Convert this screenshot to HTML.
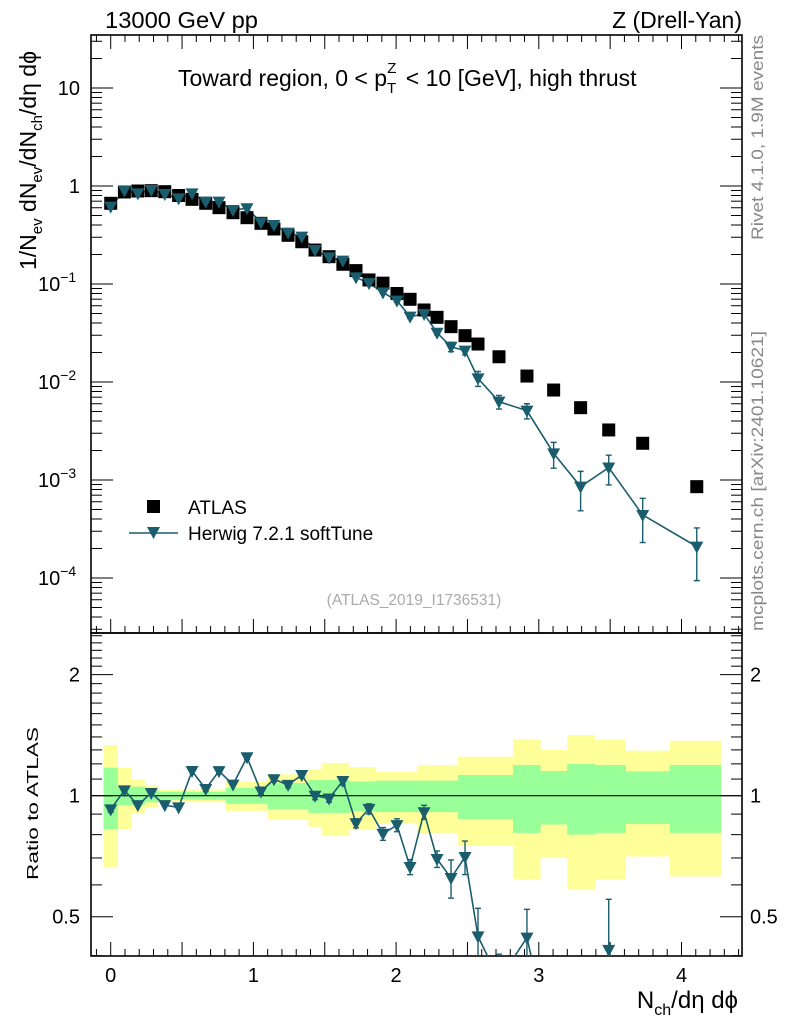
<!DOCTYPE html>
<html><head><meta charset="utf-8"><style>
html,body{margin:0;padding:0;background:#fff;width:786px;height:1024px;overflow:hidden;}
svg{display:block;font-family:"Liberation Sans",sans-serif;}
</style></head><body>
<svg id="chart" width="786" height="1024" viewBox="0 0 786 1024">
<defs>
<clipPath id="clipMain"><rect x="91" y="35" width="651" height="598"/></clipPath>
<clipPath id="clipRatio"><rect x="91" y="633" width="651" height="323"/></clipPath>
</defs>
<g id="bands" clip-path="url(#clipRatio)"></g>
<g id="axes"></g>
<g id="series"></g>
<text x="105" y="28" font-size="23" textLength="153" lengthAdjust="spacingAndGlyphs">13000 GeV pp</text>
<text x="742" y="28" font-size="23" text-anchor="end">Z (Drell-Yan)</text>
<text x="178" y="86" font-size="23">Toward region, 0 &lt; p<tspan font-size="15" dy="7">T</tspan><tspan font-size="15" dx="-9" dy="-20">Z</tspan><tspan dy="13" dx="3"> &lt; 10 [GeV], high thrust</tspan></text>
<text x="414" y="605" font-size="15.5" fill="#aaa" text-anchor="middle">(ATLAS_2019_I1736531)</text>
<text transform="translate(763,240) rotate(-90)" font-size="17" fill="#888" textLength="205" lengthAdjust="spacingAndGlyphs">Rivet 4.1.0, 1.9M events</text>
<text transform="translate(763,631) rotate(-90)" font-size="17" fill="#888" textLength="300" lengthAdjust="spacingAndGlyphs">mcplots.cern.ch [arXiv:2401.10621]</text>
<text transform="translate(36,270) rotate(-90)" font-size="23">1/N<tspan font-size="15" dy="6">ev</tspan><tspan dy="-6"> dN</tspan><tspan font-size="15" dy="6">ev</tspan><tspan dy="-6">/dN</tspan><tspan font-size="15" dy="6">ch</tspan><tspan dy="-6">/dη dϕ</tspan></text>
<text transform="translate(38,880) rotate(-90)" font-size="16" textLength="153" lengthAdjust="spacingAndGlyphs">Ratio to ATLAS</text>
<text x="738" y="1008" font-size="24" text-anchor="end">N<tspan font-size="16" dy="7">ch</tspan><tspan dy="-7">/dη dϕ</tspan></text>
<g>
<rect x="147" y="500" width="13" height="13" fill="#000"/>
<text x="188" y="514" font-size="19">ATLAS</text>
<line x1="129" y1="533" x2="178" y2="533" stroke="#1a5e6e" stroke-width="1.6"/>
<path d="M147,527 L160,527 L153.5,539 Z" fill="#1a5e6e"/>
<text x="188" y="540" font-size="19">Herwig 7.2.1 softTune</text>
</g>
</svg>
<script>
const xVals=[0,0.096,0.19,0.284,0.379,0.476,0.57,0.666,0.759,0.857,0.955,1.053,1.144,1.243,1.339,1.432,1.53,1.627,1.719,1.81,1.908,2.006,2.098,2.196,2.287,2.385,2.483,2.574,2.721,2.917,3.104,3.293,3.49,3.728,4.107];
const atlasVals=[0.666,0.869,0.889,0.896,0.875,0.80,0.731,0.666,0.601,0.534,0.475,0.416,0.364,0.314,0.270,0.222,0.190,0.159,0.137,0.110,0.102,0.080,0.0698,0.0543,0.0457,0.0367,0.0297,0.0244,0.0181,0.0115,0.00828,0.00547,0.00324,0.00237,0.000855];
const herwigVals=[0.616,0.896,0.842,0.91,0.829,0.748,0.842,0.692,0.692,0.569,0.592,0.426,0.40,0.334,0.304,0.222,0.187,0.173,0.117,0.102,0.082,0.0676,0.0464,0.0494,0.0318,0.0229,0.0209,0.0109,0.0063,0.0051,0.00187,0.000855,0.00134,0.00044,0.000209];
const herwigErr=[0.01,0.01,0.01,0.01,0.01,0.01,0.01,0.01,0.01,0.008,0.008,0.007,0.006,0.005,0.005,0.005,0.004,0.004,0.003,0.003,0.003,0.0025,0.002,0.002,0.0015,0.0025,0.002,0.0019,0.001,0.0009,0.00055,0.00037,0.00045,0.00021,0.000115];
const bandTotal=[0.337,0.174,0.098,0.063,0.033,0.033,0.037,0.037,0.037,0.083,0.083,0.083,0.13,0.13,0.13,0.163,0.206,0.206,0.178,0.178,0.147,0.147,0.147,0.192,0.192,0.192,0.25,0.25,0.25,0.381,0.30,0.416,0.381,0.294,0.37];
const bandStat=[0.174,0.053,0.053,0.037,0.023,0.023,0.022,0.022,0.022,0.045,0.045,0.045,0.075,0.075,0.075,0.094,0.094,0.094,0.085,0.085,0.09,0.09,0.09,0.09,0.09,0.09,0.126,0.126,0.126,0.192,0.152,0.20,0.192,0.15,0.192];
const mainTicks=[10,1,0.1,0.01,0.001,0.0001];
const mainTickLabels=["10","1","10","10","10","10"];
const mainTickExps=["","","−1","−2","−3","−4"];
const ratioTicks=[0.5,1,2];
const ratioTickLabels=["0.5","1","2"];
const xTicks=[0,1,2,3,4];
const xTickLabels=["0","1","2","3","4"];

const NS="http://www.w3.org/2000/svg";
const X=v=>110.7+v*142.7;
const YM=v=>186-98*Math.log10(v);
const YR=v=>795.7-402*Math.log10(v);
const L=91,R=742,T=35,MB=633,RB=956;
const axes=document.getElementById('axes'),series=document.getElementById('series'),bands=document.getElementById('bands');
function mk(tag,attrs,parent){const e=document.createElementNS(NS,tag);for(const k in attrs)e.setAttribute(k,attrs[k]);parent.appendChild(e);return e;}

const edges=[];
for(let i=0;i<xVals.length;i++){
  const lo=i===0?xVals[0]-0.05:(xVals[i-1]+xVals[i])/2;
  const hi=i===xVals.length-1?xVals[i]+0.17:(xVals[i]+xVals[i+1])/2;
  edges.push([lo,hi]);
}
for(let i=0;i<xVals.length;i++){
  const [lo,hi]=edges[i];
  const y=mk('rect',{x:X(lo),width:X(hi)-X(lo)+0.3,y:YR(1+bandTotal[i]),height:YR(1-bandTotal[i])-YR(1+bandTotal[i]),fill:'#ffff99'},bands);
  
  
}
for(let i=0;i<xVals.length;i++){
  const [lo,hi]=edges[i];
  const g=mk('rect',{x:X(lo),width:X(hi)-X(lo)+0.3,y:YR(1+bandStat[i]),height:YR(1-bandStat[i])-YR(1+bandStat[i]),fill:'#99ff99'},bands);
  
  
}
const one=mk('line',{x1:L,x2:R,y1:YR(1),y2:YR(1),stroke:'#000','stroke-width':1.2},axes);



const f1=mk('rect',{x:L,y:T,width:R-L,height:MB-T,fill:'none',stroke:'#000','stroke-width':1.6},axes);


const f2=mk('rect',{x:L,y:MB,width:R-L,height:RB-MB,fill:'none',stroke:'#000','stroke-width':1.6},axes);



for(let d=-5;d<=1;d++){
  for(let m=1;m<=9;m++){
    const v=m*Math.pow(10,d),y=YM(v);
    if(y<T||y>MB)continue;
    const len=m===1?22:11;
    mk('line',{x1:L,x2:L+len,y1:y,y2:y,stroke:'#000','stroke-width':1},axes);
    mk('line',{x1:R,x2:R-len,y1:y,y2:y,stroke:'#000','stroke-width':1},axes);
  }
}
mainTicks.forEach((v,i)=>{
  const t=mk('text',{x:mainTickExps[i]?38:80,y:YM(v)+7,'font-size':20,'text-anchor':mainTickExps[i]?'start':'end'},axes);
  t.textContent=mainTickLabels[i];
  if(mainTickExps[i]){const s=mk('tspan',{'font-size':14,dy:-9},t);s.textContent=mainTickExps[i];}
  
  
});
for(let v=0.4;v<=2.55;v+=0.1){
  const y=YR(v);if(y<MB||y>RB)continue;
  const major=Math.abs(v-0.5)<1e-6||Math.abs(v-1)<1e-6||Math.abs(v-2)<1e-6;
  const len=major?22:11;
  mk('line',{x1:L,x2:L+len,y1:y,y2:y,stroke:'#000','stroke-width':1},axes);
  mk('line',{x1:R,x2:R-len,y1:y,y2:y,stroke:'#000','stroke-width':1},axes);
}
ratioTicks.forEach((v,i)=>{
  const t=mk('text',{x:80,y:YR(v)+7,'font-size':20,'text-anchor':'end'},axes);
  t.textContent=ratioTickLabels[i];
  
  
  const t2=mk('text',{x:750,y:YR(v)+7,'font-size':20},axes);
  t2.textContent=ratioTickLabels[i];
  
  
});
for(let k=-1;k<=45;k++){
  const v=k*0.1,x=X(v);if(x<L||x>R)continue;
  const major=k%5===0;const len=major?14:7;
  [[T,1],[MB,-1],[RB,-1]].forEach(([y0,s])=>{
    mk('line',{x1:x,x2:x,y1:y0,y2:y0+s*len,stroke:'#000','stroke-width':1},axes);
  });
}
xTicks.forEach((v,i)=>{
  const t=mk('text',{x:X(v),y:982,'font-size':20,'text-anchor':'middle'},axes);
  t.textContent=xTickLabels[i];
  
  
});

const gm=mk('g',{'clip-path':'url(#clipMain)'},series);
const C='#1a5e6e';
const pl=mk('polyline',{points:xVals.map((x,i)=>X(x)+','+YM(herwigVals[i])).join(' '),fill:'none',stroke:C,'stroke-width':1.6},gm);


xVals.forEach((x,i)=>{
  const px=X(x);
  const hi=YM(herwigVals[i]+herwigErr[i]),lo=YM(Math.max(herwigVals[i]-herwigErr[i],1e-6));
  const e=mk('path',{d:`M${px},${hi}V${lo}M${px-3},${hi}H${px+3}M${px-3},${lo}H${px+3}`,stroke:C,'stroke-width':1.4,fill:'none'},gm);
  
  
});
xVals.forEach((x,i)=>{
  const px=X(x),py=YM(atlasVals[i]);
  const r=mk('rect',{x:px-6.5,y:py-6.5,width:13,height:13,fill:'#000'},gm);
  
  
});
xVals.forEach((x,i)=>{
  const px=X(x),py=YM(herwigVals[i]);
  const t=mk('path',{d:`M${px-6.5},${py-5} L${px+6.5},${py-5} L${px},${py+7} Z`,fill:C},gm);
  
  
});
const gr=mk('g',{'clip-path':'url(#clipRatio)'},series);
const ratios=xVals.map((x,i)=>herwigVals[i]/atlasVals[i]);
const rpl=mk('polyline',{points:xVals.map((x,i)=>X(x)+','+YR(ratios[i])).join(' '),fill:'none',stroke:C,'stroke-width':1.6},gr);


xVals.forEach((x,i)=>{
  const px=X(x),re=herwigErr[i]/atlasVals[i];
  if(re<0.015)return;
  const hi=YR(ratios[i]+re),lo=YR(Math.max(ratios[i]-re,0.01));
  const e=mk('path',{d:`M${px},${hi}V${lo}M${px-3},${hi}H${px+3}M${px-3},${lo}H${px+3}`,stroke:C,'stroke-width':1.4,fill:'none'},gr);
  
  
});
xVals.forEach((x,i)=>{
  const px=X(x),py=YR(ratios[i]);
  const t=mk('path',{d:`M${px-6.5},${py-5} L${px+6.5},${py-5} L${px},${py+7} Z`,fill:C},gr);
  
  
});
</script>
</body></html>
